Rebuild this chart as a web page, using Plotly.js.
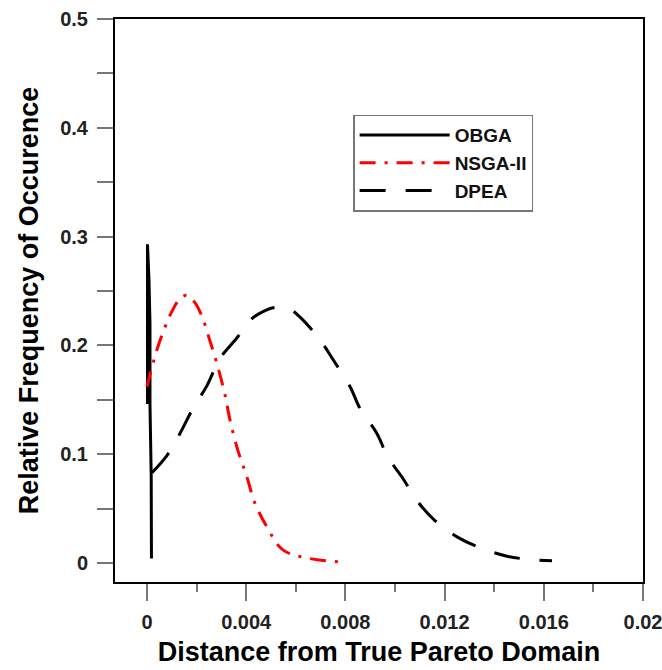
<!DOCTYPE html>
<html>
<head>
<meta charset="utf-8">
<script src="https://cdn.plot.ly/plotly-3.0.1.min.js"></script>
<style>html,body{margin:0;padding:0;background:#fff;}#chart{width:662px;height:670px;}</style>
</head>
<body>
<div id="chart"></div>
<script>
// Series names
const seriesNames = ["OBGA", "NSGA-II", "DPEA"];

// OBGA (spike near zero)
const obgaX = [0.00002, 0.00002, 0.00008, 0.00012, 0.00012, 0.00017, 0.00018];
const obgaY = [0.146, 0.293, 0.26, 0.22, 0.146, 0.08, 0.004];

// NSGA-II
const nsgaX = [0, 0.00012, 0.0004, 0.00073, 0.001, 0.00133, 0.00161, 0.00194, 0.00226, 0.00254, 0.00286, 0.00315, 0.00335, 0.00367, 0.00403, 0.00435, 0.00484, 0.00548, 0.00657, 0.00786];
const nsgaY = [0.162, 0.173, 0.196, 0.217, 0.231, 0.243, 0.246, 0.239, 0.224, 0.204, 0.180, 0.154, 0.131, 0.103, 0.079, 0.055, 0.033, 0.012, 0.004, 0.001];

// DPEA
const dpeaX = [0.0002, 0.00081, 0.00133, 0.00185, 0.00242, 0.00294, 0.00363, 0.00415, 0.00476, 0.00524, 0.00577, 0.00617, 0.00698, 0.0075, 0.00819, 0.00859, 0.00927, 0.00972, 0.01028, 0.01093, 0.01161, 0.0125, 0.01343, 0.01456, 0.01556, 0.01633];
const dpeaY = [0.083, 0.099, 0.119, 0.142, 0.163, 0.188, 0.207, 0.223, 0.232, 0.235, 0.233, 0.226, 0.205, 0.187, 0.162, 0.142, 0.119, 0.097, 0.079, 0.056, 0.039, 0.024, 0.014, 0.006, 0.003, 0.002];

// Tick values
const xTickVals = [0, 0.004, 0.008, 0.012, 0.016, 0.02];
const xTickText = ["0", "0.004", "0.008", "0.012", "0.016", "0.02"];
const yTickVals = [0, 0.1, 0.2, 0.3, 0.4, 0.5];
const yTickText = ["0", "0.1", "0.2", "0.3", "0.4", "0.5"];

const FONT = "Liberation Sans, Arial, sans-serif";

const traces = [
  {x: obgaX, y: obgaY, name: seriesNames[0], type: "scatter", mode: "lines", legendgroup: "a",
   line: {color: "#000000", width: 3}},
  {x: nsgaX, y: nsgaY, name: seriesNames[1], type: "scatter", mode: "lines", legendgroup: "b",
   line: {color: "#ff0000", width: 3, dash: "16px,9px,3px,9px", shape: "spline"}},
  {x: dpeaX, y: dpeaY, name: seriesNames[2], type: "scatter", mode: "lines", legendgroup: "c",
   line: {color: "#000000", width: 3, dash: "26px,20px", shape: "spline"}}
];

const layout = {
  width: 662, height: 670,
  margin: {l: 115, r: 19, t: 19, b: 88, pad: 0},
  paper_bgcolor: "#ffffff", plot_bgcolor: "#ffffff",
  font: {family: FONT, color: "#000000"},
  showlegend: true,
  legend: {
    x: 0.451, y: 0.83, xanchor: "left", yanchor: "top",
    bgcolor: "#ffffff", bordercolor: "#777777", borderwidth: 1.5,
    font: {family: FONT, size: 19, color: "#111111", weight: "bold"},
    itemwidth: 90, tracegroupgap: 3, traceorder: "normal"
  },
  xaxis: {
    range: [-0.00129, 0.02],
    tickmode: "array", tickvals: xTickVals, ticktext: xTickText,
    ticks: "outside", ticklen: 17, tickwidth: 2, tickcolor: "#777777",
    minor: {dtick: 0.002, tick0: 0, ticks: "outside", ticklen: 8, tickwidth: 2, tickcolor: "#777777", showgrid: false},
    ticklabelstandoff: 4, ticklabeloverflow: "allow",
    tickfont: {family: FONT, size: 20, color: "#222222", weight: "bold"},
    showline: true, linecolor: "#000000", linewidth: 2, mirror: true,
    showgrid: false, zeroline: false,
    title: {text: "Distance from True Pareto Domain", standoff: 10,
            font: {family: FONT, size: 27, color: "#000000", weight: "bold"}}
  },
  yaxis: {
    range: [-0.0175, 0.5],
    tickmode: "array", tickvals: yTickVals, ticktext: yTickText,
    ticks: "outside", ticklen: 16, tickwidth: 2, tickcolor: "#777777",
    minor: {dtick: 0.05, tick0: 0, ticks: "outside", ticklen: 16, tickwidth: 2, tickcolor: "#777777", showgrid: false},
    ticklabelstandoff: 5, ticklabeloverflow: "allow",
    tickfont: {family: FONT, size: 20, color: "#222222", weight: "bold"},
    showline: true, linecolor: "#000000", linewidth: 2, mirror: true,
    showgrid: false, zeroline: false,
    title: {text: "Relative Frequency of Occurence", standoff: 14,
            font: {family: FONT, size: 27, color: "#000000", weight: "bold"}}
  }
};

Plotly.newPlot("chart", traces, layout, {displayModeBar: false, staticPlot: true});
</script>
</body>
</html>
